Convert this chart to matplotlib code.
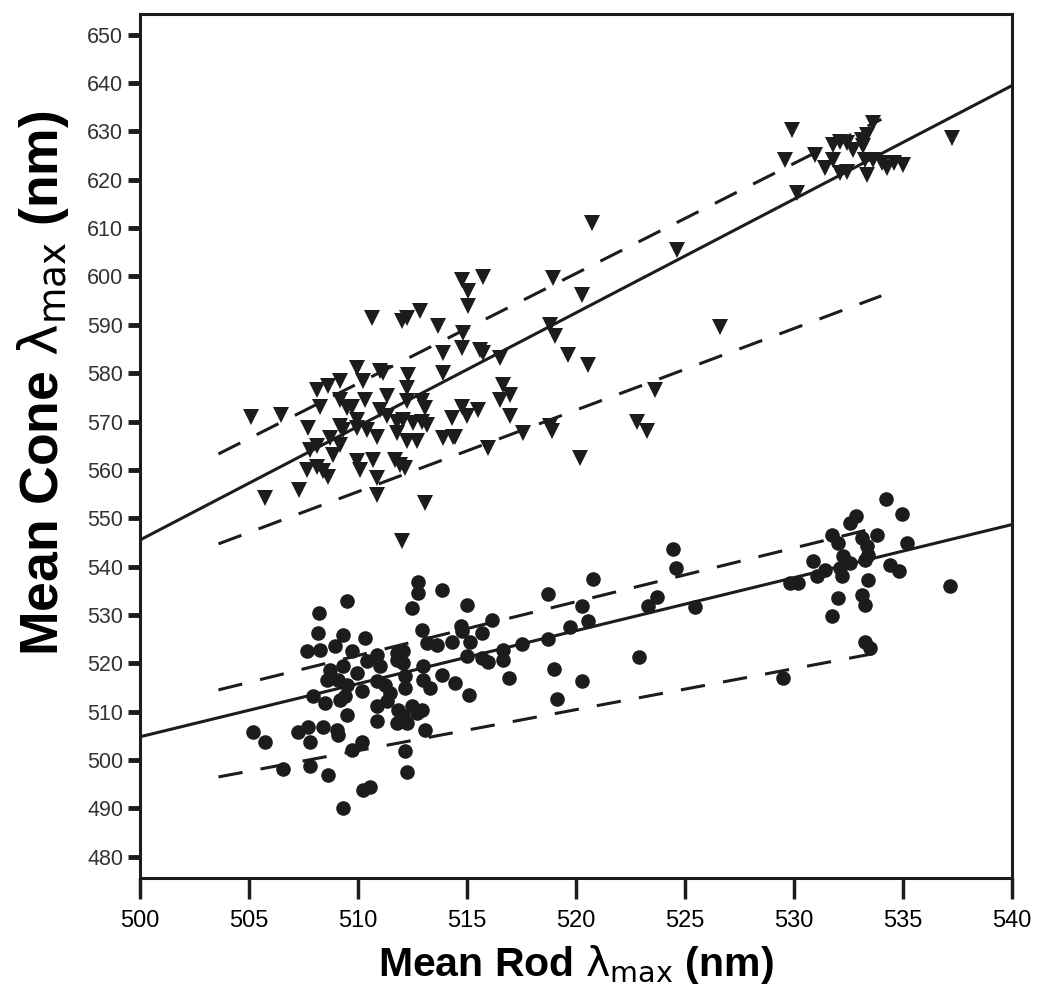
import matplotlib
matplotlib.use("Agg")
import matplotlib.pyplot as plt
import numpy as np

# ---------------- data ----------------
tri_x = [505.08, 506.47, 507.72, 505.73, 507.31, 508.13, 508.64, 509.17, 509.94, 511.01,
         510.24, 512.31, 512.23, 513.91, 513.91, 508.26, 509.17, 509.48, 509.71, 510.32,
         511.31, 512.23, 512.92, 513.07, 511.01, 509.94, 509.17, 509.33, 509.94, 510.39,
         510.85, 511.31, 511.77, 512.08, 512.54, 512.92, 513.15, 511.77, 512.23, 512.69,
         508.72, 508.10, 507.80, 509.17, 508.87, 507.65, 508.10, 508.40, 508.64, 509.94,
         510.09, 510.70, 511.70, 511.93, 512.16, 510.85, 510.85, 513.07, 512.00, 514.37,
         513.91, 514.30,
         520.72, 524.62, 514.75, 515.75, 515.06, 515.06, 518.96, 520.26, 512.84, 512.23,
         512.00, 513.68, 514.83, 518.81, 519.04, 514.75, 515.60, 515.75, 516.51, 519.65,
         520.56, 516.67, 516.97, 516.51, 516.97, 514.75, 515.52, 514.98, 514.45, 515.98,
         517.58, 518.81, 518.88, 520.18, 522.78, 523.24, 523.62, 511.16, 526.60, 510.63,
         529.89, 529.59, 530.12, 537.23, 530.96, 531.42, 531.80, 531.80, 532.10, 532.42,
         532.72, 533.10, 533.33, 533.64, 532.10, 532.42, 533.26, 533.33, 533.64, 534.02,
         534.25, 534.56, 535.01, 533.17]
tri_y = [570.9, 571.4, 568.7, 554.2, 555.9, 576.6, 577.3, 578.3, 581.1, 580.4,
         578.3, 579.7, 576.9, 584.2, 580.0, 573.1, 574.5, 572.8, 573.1, 574.5,
         575.2, 574.2, 574.2, 572.8, 572.4, 570.4, 569.0, 568.3, 568.7, 568.3,
         566.9, 571.1, 570.0, 570.4, 569.7, 570.0, 569.3, 567.6, 565.9, 565.9,
         566.6, 564.9, 564.2, 565.2, 563.1, 560.0, 560.7, 559.7, 558.6, 561.8,
         560.0, 562.1, 562.1, 561.1, 560.4, 558.3, 554.9, 553.1, 545.2, 566.9,
         566.6, 570.7,
         611.0, 605.5, 599.3, 599.9, 596.9, 593.8, 599.7, 596.2, 592.8, 591.4,
         590.7, 589.7, 588.3, 590.0, 587.6, 585.2, 584.8, 584.2, 583.1, 583.8,
         581.7, 577.6, 575.5, 574.5, 571.1, 573.1, 572.4, 571.1, 566.9, 564.5,
         567.6, 569.0, 568.0, 562.4, 570.0, 568.0, 576.6, 580.0, 589.6, 591.4,
         630.4, 624.1, 617.3, 628.6, 625.2, 622.4, 624.1, 627.2, 627.9, 627.6,
         626.2, 628.3, 629.3, 631.7, 621.4, 621.7, 624.1, 621.0, 624.1, 623.5,
         622.4, 623.5, 623.1, 626.9]

circ_x = [512.77, 512.77, 513.84, 509.48, 512.46, 508.23, 508.18, 509.33, 510.32, 512.92,
          507.65, 508.26, 508.94, 509.71, 510.85, 511.77, 512.08, 513.15, 513.60, 510.39,
          511.01, 511.77, 512.08, 508.72, 509.33, 509.94, 513.00, 508.56, 509.10, 509.48,
          510.17, 510.85, 511.24, 511.47, 512.16, 512.16, 513.00, 513.30, 513.84, 507.95,
          508.49, 509.17, 509.40, 509.48, 510.85, 511.31, 511.85, 512.08, 512.46, 512.69,
          512.92, 510.85, 511.77, 512.23, 513.07, 505.20, 505.73, 507.26, 507.72, 508.41,
          509.02, 509.10, 507.80, 510.17, 509.71, 512.16, 507.80, 506.57, 508.64, 512.23,
          510.24, 510.55, 509.33,
          524.46, 524.59, 520.80, 518.73, 514.98, 514.72, 514.75, 515.67, 516.13, 514.30,
          515.14, 514.98, 515.67, 515.98, 516.67, 516.67, 517.50, 518.73, 519.72, 520.56,
          520.26, 523.32, 523.73, 525.46, 514.45, 516.94, 515.10, 518.99, 520.26, 519.11,
          522.90,
          534.22, 534.94, 532.84, 532.57, 531.73, 532.03, 533.10, 533.79, 535.17, 533.33,
          533.41, 530.88, 532.26, 532.57, 532.11, 533.26, 531.42, 531.04, 532.18, 534.40,
          534.79, 529.82, 530.20, 533.41, 537.16, 532.03, 533.10, 533.26, 531.73, 533.26,
          533.49, 529.51]
circ_y = [536.9, 534.5, 535.2, 532.8, 531.4, 530.4, 526.3, 525.9, 525.2, 526.9,
          522.5, 522.8, 523.5, 522.5, 521.8, 522.1, 522.5, 524.2, 523.8, 520.4,
          519.4, 520.7, 520.1, 518.7, 519.4, 518.0, 519.4, 516.6, 516.6, 515.6,
          514.2, 516.3, 515.6, 513.8, 517.3, 514.9, 516.6, 514.9, 517.6, 513.2,
          511.8, 512.5, 513.2, 509.3, 511.1, 512.1, 510.4, 509.0, 511.1, 509.7,
          510.4, 508.0, 507.6, 507.6, 506.3, 505.7, 503.8, 505.7, 506.9, 506.9,
          506.3, 505.2, 503.8, 503.8, 502.1, 501.8, 498.7, 498.2, 496.9, 497.6,
          493.8, 494.5, 490.0,
          543.6, 539.7, 537.4, 534.3, 532.0, 527.8, 526.6, 526.3, 528.9, 524.4,
          524.5, 521.6, 521.1, 520.2, 522.8, 520.7, 524.0, 525.0, 527.6, 528.7,
          531.8, 531.8, 533.7, 531.6, 516.0, 516.9, 513.5, 518.8, 516.4, 512.7,
          521.2,
          554.0, 550.9, 550.4, 549.0, 546.6, 544.9, 545.9, 546.6, 544.9, 544.2,
          542.5, 541.1, 542.1, 540.7, 539.7, 541.4, 539.3, 538.0, 538.0, 540.4,
          539.0, 536.6, 536.6, 537.3, 535.9, 533.5, 534.2, 532.1, 529.7, 524.5,
          523.1, 516.9]

# regression lines (end points)
fit_x = [500, 540]
tri_fit_y = [545.5, 639.5]
circ_fit_y = [504.8, 548.7]
band_x = [503.6, 534.0]
tri_upper_y = [563.3, 632.5]
tri_lower_y = [544.7, 596.0]
circ_upper_y = [514.5, 548.3]
circ_lower_y = [496.5, 522.3]

x_ticks = list(range(500, 541, 5))
y_ticks = list(range(480, 651, 10))

# ---------------- plot ----------------
plt.rcParams['font.family'] = ['Liberation Sans', 'DejaVu Sans']
plt.rcParams['mathtext.fontset'] = 'dejavusans'
narrow = ['Liberation Sans Narrow', 'Liberation Sans', 'DejaVu Sans']

fig = plt.figure(figsize=(10.37, 9.96), dpi=100)
ax = fig.add_axes([0.135, 0.1185, 0.841, 0.8675])

ink = '#1c1c1c'
ax.plot(tri_x, tri_y, linestyle='none', marker='v', markersize=12,
        color=ink, markeredgewidth=0, zorder=3)
ax.plot(circ_x, circ_y, linestyle='none', marker='o', markersize=10.5,
        color=ink, markeredgewidth=0, zorder=3)

ax.plot(fit_x, tri_fit_y, color=ink, lw=2.2, zorder=2)
ax.plot(fit_x, circ_fit_y, color=ink, lw=2.2, zorder=2)
for yy in (tri_upper_y, tri_lower_y, circ_upper_y, circ_lower_y):
    ax.plot(band_x, yy, color=ink, lw=2.2, dashes=(8, 6), zorder=2)

ax.set_xlim(500, 540)
ax.set_ylim(475.6, 654.3)
ax.set_xticks(x_ticks)
ax.set_yticks(y_ticks)
ax.set_xticklabels([str(v) for v in x_ticks], family=narrow, fontsize=17)
ax.set_yticklabels([str(v) for v in y_ticks], fontsize=15.5, color='#333333')
ax.tick_params(axis='y', direction='out', length=9, width=3.5, pad=3, color=ink)
ax.tick_params(axis='x', direction='out', length=15, width=2.5, pad=8, color=ink)
for sp in ax.spines.values():
    sp.set_linewidth(2.2)
    sp.set_color(ink)

ax.set_xlabel(r'Mean Rod $\mathrm{\lambda}_{\mathrm{max}}$ (nm)', family=narrow,
              fontweight='bold', fontsize=29.5, labelpad=8)
ax.set_ylabel(r'Mean Cone $\mathrm{\lambda}_{\mathrm{max}}$ (nm)', family=narrow,
              fontweight='bold', fontsize=38.5)
ax.yaxis.set_label_coords(-0.079, 0.572)

fig.savefig('out.png', dpi=100, facecolor='white')
